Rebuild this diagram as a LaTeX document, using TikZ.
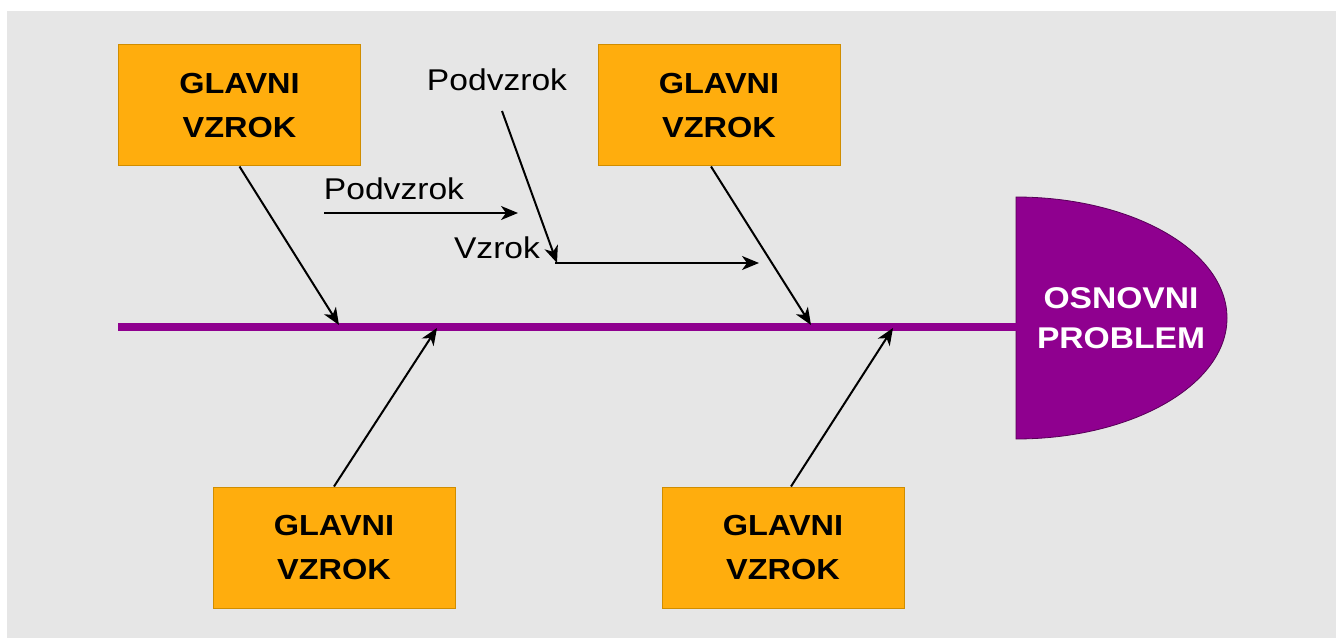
\documentclass[tikz,border=0pt]{standalone}
\usepackage{fontspec}
\usepackage{graphicx}
\setmainfont{Liberation Sans}
\usetikzlibrary{arrows.meta}
\definecolor{bgrey}{HTML}{E6E6E6}
\definecolor{boxfill}{HTML}{FFAD0D}
\definecolor{boxline}{HTML}{D08D00}
\definecolor{purp}{HTML}{8F008F}
\newcommand{\hs}[1]{\scalebox{1.12}[1]{#1}}
\tikzset{
  causebox/.style={draw=boxline, line width=1pt, fill=boxfill, minimum width=242pt, minimum height=121pt, inner sep=0pt, align=center, font=\fontsize{29}{44}\selectfont\bfseries},
  lbl/.style={inner sep=0pt, font=\fontsize{30}{36}\selectfont},
  arr/.style={line width=2pt, -{Stealth[length=17pt,width=14pt,inset=5pt]}},
  spine/.style={draw=purp, line width=8.5pt},
}
\begin{document}
\begin{tikzpicture}[x=1pt,y=-1pt]
\useasboundingbox (0,0) rectangle (1336,639);
\fill[white] (0,0) rectangle (1336,639);
\fill[bgrey] (7,11) rectangle (1336,638);

% problem head
\fill[purp, draw=purp!60!black, line width=0.8pt] (1016,197) .. controls (1132.5,197) and (1227,251.2) .. (1227,318)
  .. controls (1227,384.8) and (1132.5,439) .. (1016,439) -- cycle;
\node[inner sep=0pt, align=center, text=white, font=\fontsize{30}{40}\selectfont\bfseries] (prob) at (1121,318) {\hs{OSNOVNI}\\\hs{PROBLEM}};

% spine
\coordinate (s0) at (118,327);
\coordinate (s1) at (1017,327);
\draw[spine] (s0) -- (s1);

% main cause boxes
\node[causebox] (tl) at (239.5,105.5) {\hs{GLAVNI}\\\hs{VZROK}};
\node[causebox] (tr) at (719,105.5) {\hs{GLAVNI}\\\hs{VZROK}};
\node[causebox] (bl) at (334,547.5) {\hs{GLAVNI}\\\hs{VZROK}};
\node[causebox] (br) at (783,547.5) {\hs{GLAVNI}\\\hs{VZROK}};

% tips on spine
\coordinate (p1) at (339,325);
\coordinate (p2) at (437,328);
\coordinate (p3) at (811,325);
\coordinate (p4) at (893,328);

\draw[arr] (tl.south) -- (p1);
\draw[arr] ([xshift=-8pt]tr.south) -- (p3);
\draw[arr] (bl.north) -- (p2);
\draw[arr] ([xshift=8pt]br.north) -- (p4);

% sub-causes
\node[lbl] (pz1) at (497,80) {\hs{Podvzrok}};
\node[lbl] (pz2) at (394,189) {\hs{Podvzrok}};
\node[lbl] (vz) at (497,248) {\hs{Vzrok}};

\coordinate (a1s) at (324,213);
\coordinate (a1e) at (518,213);
\coordinate (a2s) at (502,111);
\coordinate (a2e) at (557,263);
\coordinate (a3s) at (555,263);
\coordinate (a3e) at (759,263);
\draw[arr] (a1s) -- (a1e);
\draw[arr] (a2s) -- (a2e);
\draw[arr] (a3s) -- (a3e);
\end{tikzpicture}
\end{document}
